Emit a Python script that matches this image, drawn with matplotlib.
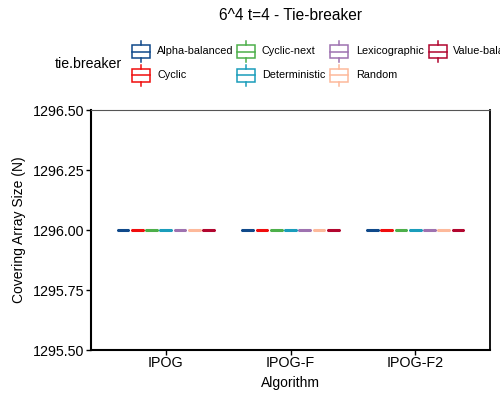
import matplotlib
matplotlib.use("Agg")
import matplotlib.pyplot as plt
from matplotlib.patches import Rectangle
from matplotlib.lines import Line2D

plt.rcParams["font.family"] = ["Liberation Sans", "DejaVu Sans"]

algorithms = ["IPOG", "IPOG-F", "IPOG-F2"]
tie_breakers = ["Alpha-balanced", "Cyclic", "Cyclic-next", "Deterministic",
                "Lexicographic", "Random", "Value-balanced"]
colors = ["#10498a", "#f00d0d", "#4daf4a", "#1a9dbb", "#9e72b0", "#fdb99b", "#b2062f"]
# covering array sizes: every run gave 1296
sizes = {
    "Alpha-balanced": [1296, 1296, 1296],
    "Cyclic": [1296, 1296, 1296],
    "Cyclic-next": [1296, 1296, 1296],
    "Deterministic": [1296, 1296, 1296],
    "Lexicographic": [1296, 1296, 1296],
    "Random": [1296, 1296, 1296],
    "Value-balanced": [1296, 1296, 1296],
}
yticks = [1295.50, 1295.75, 1296.00, 1296.25, 1296.50]

W, H = 500, 400
fig = plt.figure(figsize=(W / 100, H / 100), dpi=100)
ax = fig.add_axes([91 / W, 50 / H, 399 / W, 240 / H])

n = len(tie_breakers)
group_w = 0.8
bw = group_w / n
for i, tb in enumerate(tie_breakers):
    pos = [g + 1 - group_w / 2 + bw * (i + 0.5) for g in range(len(algorithms))]
    ax.boxplot([[v] for v in sizes[tb]], positions=pos, widths=bw * 0.9,
               showfliers=False, manage_ticks=False,
               boxprops=dict(color=colors[i], lw=0.6),
               medianprops=dict(color=colors[i], lw=2.2, solid_capstyle="butt"),
               whiskerprops=dict(color=colors[i]), capprops=dict(lw=0))

ax.set_xlim(0.4, 3.6)
ax.set_xticks(range(1, len(algorithms) + 1))
ax.set_xticklabels(algorithms, fontsize=10.3)
ax.set_ylim(yticks[0], yticks[-1])
ax.set_yticks(yticks)
ax.set_yticklabels(["%.2f" % t for t in yticks], fontsize=10.3)
ax.tick_params(axis="x", length=3.5, width=1, colors="black", pad=1)
ax.tick_params(axis="y", length=3.5, width=1, colors="black", pad=1)
ax.set_xlabel("Algorithm", fontsize=10, labelpad=4)
ax.set_ylabel("Covering Array Size (N)", fontsize=10, labelpad=5)
for s in ["left", "bottom"]:
    ax.spines[s].set_linewidth(1.5)
ax.spines["right"].set_linewidth(1.3)
ax.spines["top"].set_linewidth(0.8)
ax.spines["top"].set_color("#555555")

# legend drawn by hand, keys look like small boxplots
key_x = [132, 237, 330, 429]
text_x = [157, 262, 356, 453]
row_y = [51.5, 75]
tf = fig.transFigure
for i, tb in enumerate(tie_breakers):
    col, row = i // 2, i % 2
    kx, ky = key_x[col], row_y[row]
    c = colors[i]
    fig.add_artist(Rectangle((kx / W, 1 - (ky + 6.5) / H), 18 / W, 13 / H,
                             facecolor="white", edgecolor=c, lw=1.1, transform=tf))
    fig.add_artist(Line2D([kx / W, (kx + 18) / W], [1 - ky / H] * 2, color=c, lw=1.1, transform=tf))
    fig.add_artist(Line2D([(kx + 9) / W] * 2, [1 - (ky - 6.5) / H, 1 - (ky - 10.5) / H],
                          color=c, lw=1.1, transform=tf))
    fig.add_artist(Line2D([(kx + 9) / W] * 2, [1 - (ky + 6.5) / H, 1 - (ky + 10.5) / H],
                          color=c, lw=1.1, transform=tf))
    fig.text(text_x[col] / W, 1 - ky / H, tb, fontsize=7.8, ha="left", va="center")
fig.text(55 / W, 1 - 64 / H, "tie.breaker", fontsize=10.2, ha="left", va="center")
fig.text(290.5 / W, 1 - 15 / H, "6^4 t=4 - Tie-breaker", fontsize=11.2, ha="center", va="center")

fig.savefig("out.png", dpi=100)
